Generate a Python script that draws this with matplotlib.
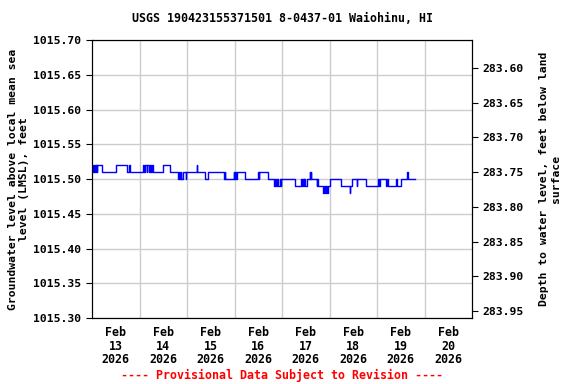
import numpy as np
import matplotlib.pyplot as plt
from datetime import datetime, timedelta

# Step change points: hours after 2026-02-13 00:00 and water level (ft above LMSL)
hours = [0.0, 0.7, 1.0, 1.4, 1.8, 2.0, 2.3, 2.5, 4.8, 12.1, 17.5, 18.8, 19.1,
         25.9, 26.5, 27.0, 27.6, 28.0, 28.8, 29.2, 30.0, 30.5, 31.0, 36.0, 39.4,
         43.7, 44.0, 44.3, 44.8, 45.2, 45.8, 47.3, 47.6, 52.8, 53.0, 57.1, 58.8,
         66.5, 67.0, 67.3, 71.5, 71.8, 72.2, 72.6, 73.2, 77.3, 83.8, 84.2, 84.5,
         88.8, 92.2, 92.6, 93.0, 93.6, 94.0, 95.0, 95.3, 95.7, 102.5, 105.8,
         106.1, 106.5, 106.9, 107.3, 107.7, 108.5, 110.0, 110.2, 110.7, 110.9,
         113.5, 113.8, 114.2, 116.9, 117.3, 117.8, 118.3, 118.7, 119.0, 120.2,
         125.8, 130.3, 130.5, 131.3, 133.7, 133.9, 138.2, 144.7, 145.1, 145.4,
         148.6, 149.0, 149.4, 153.6, 153.9, 156.0, 159.4, 159.6, 163.2]
levels = [1015.51, 1015.52, 1015.51, 1015.52, 1015.51, 1015.52, 1015.51, 1015.52,
          1015.51, 1015.52, 1015.51, 1015.52, 1015.51,
          1015.52, 1015.51, 1015.52, 1015.51, 1015.52, 1015.51, 1015.52, 1015.51,
          1015.52, 1015.51, 1015.52, 1015.51,
          1015.50, 1015.51, 1015.50, 1015.51, 1015.50, 1015.51, 1015.50, 1015.51,
          1015.52, 1015.51, 1015.50, 1015.51,
          1015.50, 1015.51, 1015.50, 1015.51, 1015.50, 1015.51, 1015.50, 1015.51,
          1015.50, 1015.51, 1015.50, 1015.51,
          1015.50, 1015.49, 1015.50, 1015.49, 1015.50, 1015.49, 1015.50, 1015.49,
          1015.50, 1015.49, 1015.50,
          1015.49, 1015.50, 1015.49, 1015.50, 1015.49, 1015.50, 1015.51, 1015.50,
          1015.51, 1015.50,
          1015.49, 1015.50, 1015.49, 1015.48, 1015.49, 1015.48, 1015.49, 1015.48,
          1015.49, 1015.50,
          1015.49, 1015.48, 1015.49, 1015.50, 1015.49, 1015.50, 1015.49, 1015.50,
          1015.49, 1015.50,
          1015.49, 1015.50, 1015.49, 1015.50, 1015.49, 1015.50, 1015.51, 1015.50,
          1015.50]

datum_sum = 1299.26  # level above LMSL + depth below land surface
start = datetime(2026, 2, 13)
times = [start + timedelta(hours=h) for h in hours]

plt.rcParams['font.family'] = 'DejaVu Sans Mono'
plt.rcParams['font.weight'] = 'bold'
fs = 8.2

fig = plt.figure(figsize=(5.76, 3.84), dpi=100)
ax = fig.add_axes([92 / 576, 1 - 318 / 384, 380 / 576, 278 / 384])

ax.plot(times, levels, drawstyle='steps-post', color='#0000ff', lw=1)

ax.set_xlim(start, start + timedelta(days=8))
ax.set_ylim(1015.30, 1015.70)
ax.set_yticks(np.arange(1015.30, 1015.701, 0.05))
ax.yaxis.set_major_formatter(plt.FormatStrFormatter('%.2f'))

noon = [start + timedelta(days=d, hours=12) for d in range(8)]
ax.set_xticks(noon)
ax.set_xticklabels([f"Feb\n{t.day}\n{t.year}" for t in noon], fontsize=8.4,
                   fontweight='bold', linespacing=1.05)
ax.set_xticks([start + timedelta(days=d) for d in range(1, 8)], minor=True)
ax.tick_params(axis='x', which='both', length=0, pad=6)
ax.grid(True, which='minor', axis='x', color='#cccccc', lw=1)
ax.grid(True, which='major', axis='y', color='#cccccc', lw=1)
ax.tick_params(axis='y', labelsize=fs, length=4)
for lab in ax.get_yticklabels():
    lab.set_fontweight('bold')

ax.set_ylabel('Groundwater level above local mean sea\nlevel (LMSL), feet',
              fontsize=fs, fontweight='bold', linespacing=1.2, labelpad=3)

ax2 = ax.twinx()
ax2.set_ylim(datum_sum - 1015.30, datum_sum - 1015.70)
ax2.set_yticks(np.arange(283.60, 283.951, 0.05))
ax2.yaxis.set_major_formatter(plt.FormatStrFormatter('%.2f'))
ax2.tick_params(axis='y', labelsize=fs, length=4)
for lab in ax2.get_yticklabels():
    lab.set_fontweight('bold')
ax2.set_ylabel('Depth to water level, feet below land\nsurface',
               fontsize=fs, fontweight='bold', linespacing=1.2, labelpad=11)

ax.set_title('USGS 190423155371501 8-0437-01 Waiohinu, HI', fontsize=8.4,
             fontweight='bold', pad=13)
fig.text(282 / 576, 1 - 375 / 384, '---- Provisional Data Subject to Revision ----',
         color='red', fontsize=8.4, fontweight='bold', ha='center', va='center')

fig.savefig('out.png', dpi=100)
